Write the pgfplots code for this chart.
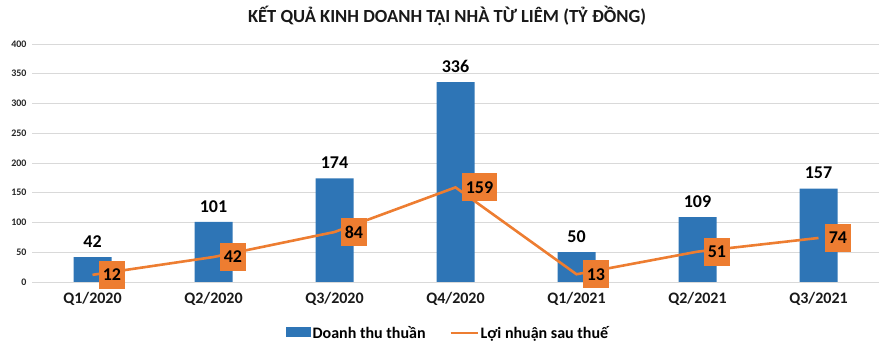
\documentclass[border=0pt]{standalone}
\usepackage{pgfplots}
\pgfplotsset{compat=1.18}
\usepackage{fontspec}
\setmainfont{Carlito}
\definecolor{barblue}{HTML}{2E75B6}
\definecolor{lineorange}{HTML}{ED7D31}
\begin{document}
\begin{tikzpicture}[x=1pt,y=1pt]
\useasboundingbox (-32,-70) rectangle (853,282);
\begin{axis}[
  at={(0,0)}, anchor=south west,
  scale only axis, width=847pt, height=238pt,
  xmin=-0.5, xmax=6.5, ymin=0, ymax=400,
  ytick={0,50,...,400},
  xtick={0,...,6},
  xticklabels={Q1/2020,Q2/2020,Q3/2020,Q4/2020,Q1/2021,Q2/2021,Q3/2021},
  /pgf/number format/assume math mode=true,
  yticklabel style={font=\fontsize{10}{11}\selectfont\bfseries, text=black!85, xshift=-2pt},
  xticklabel style={font=\fontsize{16}{18}\selectfont\bfseries, text=black!90, yshift=-7pt},
  ymajorgrids, grid style={gray!30, line width=0.8pt},
  axis line style={draw=none},
  major tick style={draw=none},
  legend style={at={(axis description cs:0.491,-0.214)}, anchor=center, draw=none,
    font=\fontsize{16}{18}\selectfont\bfseries, legend columns=2,
    /tikz/every even column/.append style={column sep=22pt}},
  legend image code/.code={},
  clip=false,
]
\addplot[ybar, bar width=38pt, fill=barblue, draw=none,
  nodes near coords,
  nodes near coords style={font=\fontsize{18}{20}\selectfont\bfseries, text=black, yshift=6pt},
  legend image code/.code={\fill[barblue] (0cm,-0.15cm) rectangle (0.88cm,0.2cm);}]
  coordinates {(0,42) (1,101) (2,174) (3,336) (4,50) (5,109) (6,157)};
\addlegendentry{Doanh thu thuần}
\addplot[lineorange, line width=2.6pt, mark=none,
  nodes near coords,
  nodes near coords style={font=\fontsize{18}{20}\selectfont\bfseries, text=black,
     fill=lineorange, anchor=west, xshift=5pt, inner xsep=4pt, inner ysep=8pt},
  legend image code/.code={\draw[lineorange, line width=2pt] (0cm,0cm) -- (0.95cm,0cm);}]
  coordinates {(0,12) (1,42) (2,84) (3,159) (4,13) (5,51) (6,74)};
\addlegendentry{Lợi nhuận sau thuế}
\node[font=\fontsize{18.5}{21}\selectfont\bfseries, text=black!90] at (axis description cs:0.49,1.118) {KẾT QUẢ KINH DOANH TẠI NHÀ TỪ LIÊM (TỶ ĐỒNG)};
\end{axis}
\end{tikzpicture}
\end{document}
